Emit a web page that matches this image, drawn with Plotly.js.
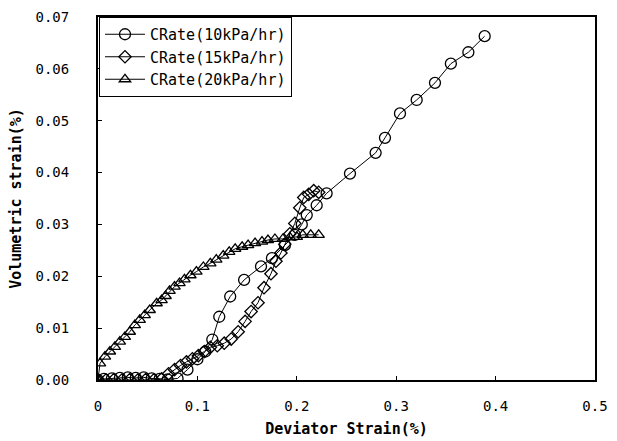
<!DOCTYPE html>
<html>
<head>
<meta charset="utf-8">
<script src="https://cdn.plot.ly/plotly-3.0.1.min.js"></script>
<style>html,body{margin:0;padding:0;background:#fff;}#chart{width:617px;height:441px;}</style>
</head>
<body>
<div id="chart"></div>
<script>
var seriesNames = ["CRate(10kPa/hr)", "CRate(15kPa/hr)", "CRate(20kPa/hr)"];

var x10 = [0, 0.006, 0.014, 0.022, 0.030, 0.038, 0.046, 0.054, 0.062, 0.070, 0.080, 0.090, 0.100, 0.108, 0.115, 0.122, 0.133, 0.147, 0.164, 0.175, 0.188, 0.198, 0.205, 0.210, 0.220, 0.230, 0.2535, 0.2793, 0.2887, 0.3038, 0.3206, 0.339, 0.355, 0.3726, 0.389];
var y10 = [0, 0.0002, 0.0003, 0.0004, 0.0005, 0.0004, 0.0005, 0.0003, 0.0002, 0.0001, 0.0003, 0.0020, 0.0040, 0.0055, 0.0078, 0.0122, 0.0161, 0.0193, 0.0219, 0.0235, 0.0260, 0.0280, 0.0300, 0.0318, 0.0337, 0.0360, 0.0398, 0.0438, 0.0467, 0.0514, 0.0540, 0.0573, 0.0610, 0.0632, 0.0663];

var x15 = [0, 0.008, 0.016, 0.024, 0.032, 0.040, 0.048, 0.056, 0.064, 0.071, 0.077, 0.083, 0.089, 0.095, 0.101, 0.107, 0.113, 0.120, 0.127, 0.134, 0.141, 0.148, 0.154, 0.161, 0.167, 0.174, 0.179, 0.184, 0.188, 0.193, 0.198, 0.203, 0.207, 0.212, 0.217, 0.222];
var y15 = [0, 0, 0.0001, 0, 0.0001, 0, 0.0001, 0, 0.0002, 0.0012, 0.0020, 0.0028, 0.0035, 0.0041, 0.0047, 0.0055, 0.0063, 0.0066, 0.0071, 0.0079, 0.0093, 0.0113, 0.0132, 0.0149, 0.0178, 0.0205, 0.0229, 0.0245, 0.0262, 0.0282, 0.0302, 0.0332, 0.0352, 0.0358, 0.0365, 0.0362];

var x20 = [0, 0.002, 0.007, 0.012, 0.017, 0.022, 0.027, 0.032, 0.037, 0.042, 0.047, 0.052, 0.059, 0.064, 0.068, 0.072, 0.077, 0.082, 0.087, 0.093, 0.099, 0.106, 0.113, 0.119, 0.126, 0.132, 0.138, 0.145, 0.151, 0.158, 0.165, 0.171, 0.178, 0.186, 0.193, 0.200, 0.206, 0.214, 0.222];
var y20 = [0, 0.0032, 0.0045, 0.0055, 0.0064, 0.0074, 0.0083, 0.0093, 0.0106, 0.0116, 0.0125, 0.0135, 0.0148, 0.0154, 0.0162, 0.0172, 0.0180, 0.0187, 0.0194, 0.0202, 0.0209, 0.0218, 0.0225, 0.0232, 0.0240, 0.0247, 0.0253, 0.0257, 0.0260, 0.0264, 0.0267, 0.0270, 0.0272, 0.0272, 0.0275, 0.0276, 0.0280, 0.0280, 0.0280];

var xTickVals = [0, 0.1, 0.2, 0.3, 0.4, 0.5];
var xTickText = ["0", "0.1", "0.2", "0.3", "0.4", "0.5"];
var yTickVals = [0, 0.01, 0.02, 0.03, 0.04, 0.05, 0.06, 0.07];
var yTickText = ["0.00", "0.01", "0.02", "0.03", "0.04", "0.05", "0.06", "0.07"];

var symbols = ["circle-open", "diamond-open", "triangle-up-open"];
var sizes = [11, 9.5, 10];
var xs = [x10, x15, x20];
var ys = [y10, y15, y20];

var traces = seriesNames.map(function (n, i) {
  return {
    x: xs[i], y: ys[i], name: n, type: "scatter", mode: "lines+markers",
    line: {color: "#000", width: 1},
    marker: {symbol: symbols[i], size: sizes[i], color: "#000", line: {color: "#000", width: 1.3}}
  };
});

var mono = "DejaVu Sans Mono, Liberation Mono, monospace";
var tickFont = {family: mono, size: 14, color: "#000"};
var layout = {
  width: 617, height: 441,
  margin: {l: 98, r: 22, t: 17, b: 61},
  paper_bgcolor: "#fff", plot_bgcolor: "#fff",
  showlegend: true,
  legend: {x: 0.002, y: 1, xanchor: "left", yanchor: "top", bgcolor: "#fff", bordercolor: "#000", borderwidth: 1,
    font: {family: mono, size: 15, color: "#000"}, tracegroupgap: 0, itemwidth: 40},
  xaxis: {
    range: [0, 0.5], tickvals: xTickVals, ticktext: xTickText, ticks: "inside", ticklen: 4, tickcolor: "#000",
    showgrid: false, zeroline: false, showline: true, linecolor: "#000", linewidth: 2, mirror: true,
    tickfont: tickFont, ticklabelstandoff: 12,
    title: {text: "<b>Deviator Strain(%)</b>", font: {family: mono, size: 15, color: "#000"}, standoff: 11}
  },
  yaxis: {
    range: [0, 0.07], tickvals: yTickVals, ticktext: yTickText, ticks: "inside", ticklen: 4, tickcolor: "#000",
    showgrid: false, zeroline: false, showline: true, linecolor: "#000", linewidth: 2, mirror: true,
    tickfont: tickFont, ticklabelstandoff: 24,
    title: {text: "<b>Volumetric strain(%)</b>", font: {family: mono, size: 15, color: "#000"}, standoff: 10}
  }
};

Plotly.newPlot("chart", traces, layout, {displayModeBar: false, staticPlot: true});
</script>
</body>
</html>
